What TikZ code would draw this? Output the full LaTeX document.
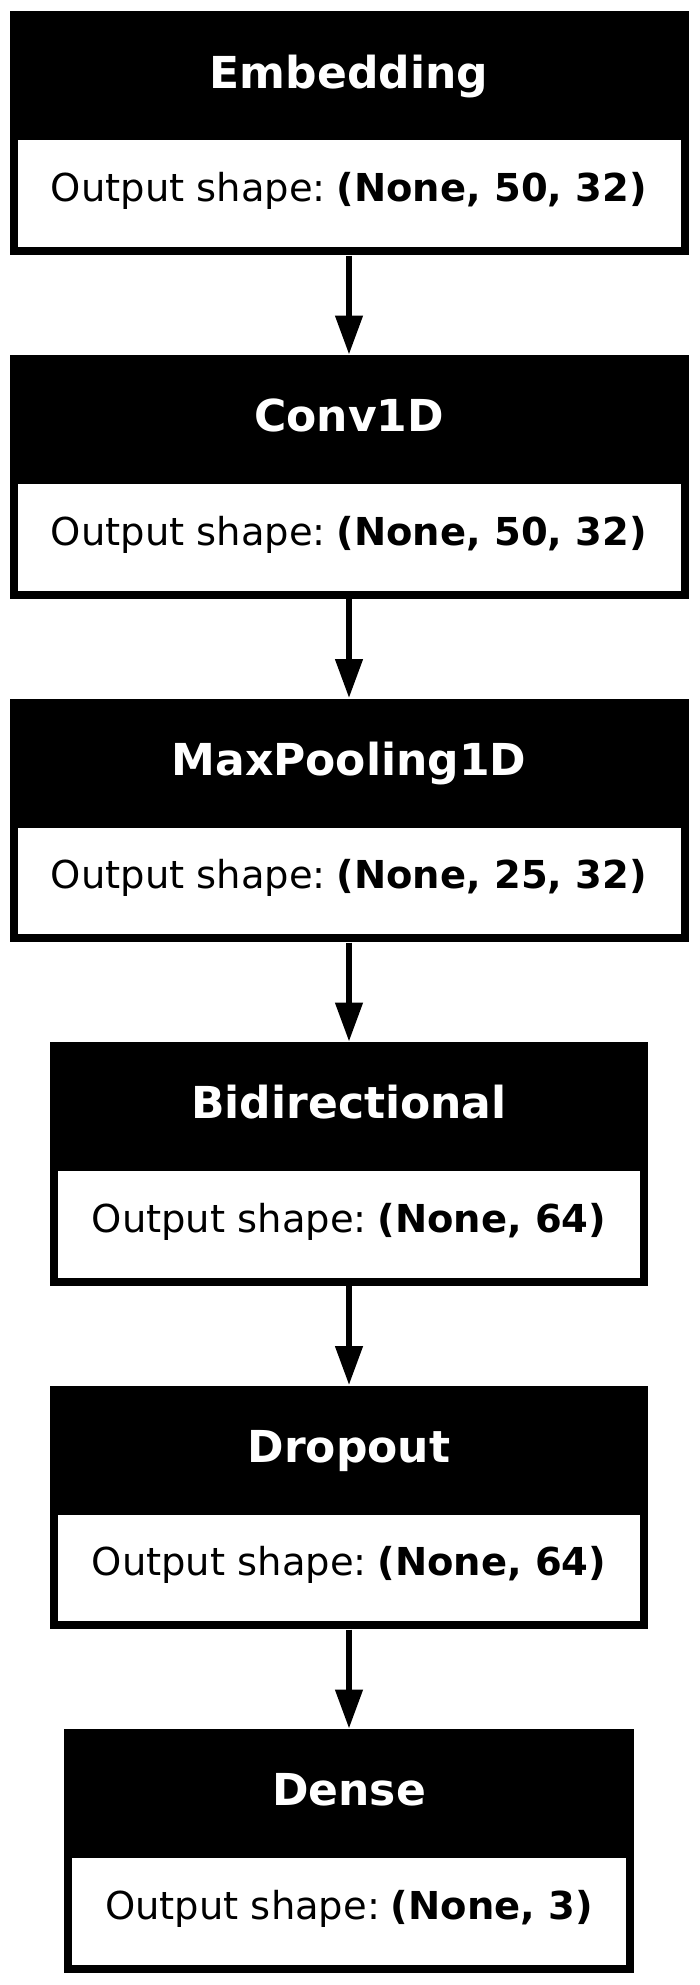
\documentclass[tikz,border=0pt]{standalone}
\usepackage{fontspec}
\setmainfont{DejaVu Sans}
\usetikzlibrary{arrows.meta}
\tikzset{
  outerbox/.style={fill=black, draw=none, inner sep=0pt, minimum height=87.66pt},
  innerbox/.style={fill=white, draw=none, inner sep=0pt, minimum height=38.34pt},
  titletext/.style={text=white, font=\bfseries\fontsize{15.85}{19}\selectfont, anchor=base, inner sep=0pt},
  bodytext/.style={text=black, font=\fontsize{13.85}{17}\selectfont, anchor=base, inner sep=0pt},
  conn/.style={line width=2pt, draw=black, -{Triangle[width=9.6pt,length=14pt]}},
  wide/.style={minimum width=244.44pt},
  mid/.style={minimum width=215.39pt},
  narrow/.style={minimum width=205.42pt},
  iwide/.style={minimum width=238.68pt},
  imid/.style={minimum width=209.63pt},
  inarrow/.style={minimum width=199.66pt}
}
\newcommand{\oshape}[1]{Output shape:\hspace{0.28em}\textbf{#1}}
\begin{document}
\begin{tikzpicture}[x=0.36pt, y=-0.36pt]
\useasboundingbox (0,0) rectangle (699,1985);
% Embedding
\node[outerbox, wide] (emb) at (349,133.25) {};
\node[innerbox, iwide] (embw) at (349,193.75) {};
\node[titletext] (embt) at (349,88.2) {Embedding};
\node[bodytext] (embs) at (349,201.5) {\oshape{(None, 50, 32)}};
% Conv1D
\node[outerbox, wide] (conv) at (349,476.75) {};
\node[innerbox, iwide] (convw) at (349,537.25) {};
\node[titletext] (convt) at (349,431.7) {Conv1D};
\node[bodytext] (convs) at (349,545) {\oshape{(None, 50, 32)}};
% MaxPooling1D
\node[outerbox, wide] (pool) at (349,820.25) {};
\node[innerbox, iwide] (poolw) at (349,880.75) {};
\node[titletext] (poolt) at (349,775.2) {MaxPooling1D};
\node[bodytext] (pools) at (349,888.5) {\oshape{(None, 25, 32)}};
% Bidirectional
\node[outerbox, mid] (bidi) at (349,1163.75) {};
\node[innerbox, imid] (bidiw) at (349,1224.25) {};
\node[titletext] (bidit) at (349,1118.7) {Bidirectional};
\node[bodytext] (bidis) at (349,1232) {\oshape{(None, 64)}};
% Dropout
\node[outerbox, mid] (drop) at (349,1507.25) {};
\node[innerbox, imid] (dropw) at (349,1567.75) {};
\node[titletext] (dropt) at (349,1462.2) {Dropout};
\node[bodytext] (drops) at (349,1575.5) {\oshape{(None, 64)}};
% Dense
\node[outerbox, narrow] (dense) at (349,1850.75) {};
\node[innerbox, inarrow] (densew) at (349,1911.25) {};
\node[titletext] (denset) at (349,1805.7) {Dense};
\node[bodytext] (denses) at (349,1919) {\oshape{(None, 3)}};
% connectors
\draw[conn] (emb.south) -- (conv.north);
\draw[conn] (conv.south) -- (pool.north);
\draw[conn] (pool.south) -- (bidi.north);
\draw[conn] (bidi.south) -- (drop.north);
\draw[conn] (drop.south) -- (dense.north);
\end{tikzpicture}
\end{document}
